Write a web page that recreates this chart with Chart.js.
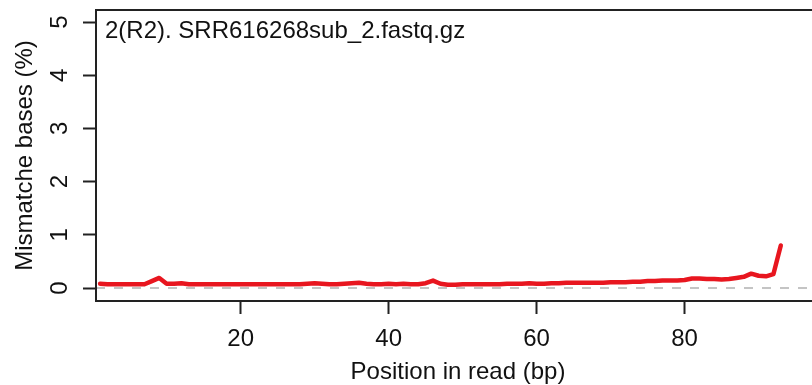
<!DOCTYPE html>
<html>
<head>
<meta charset="utf-8">
<script src="https://cdn.jsdelivr.net/npm/chart.js@4"></script>
<style>
  html, body { margin: 0; padding: 0; background: #fff; overflow: hidden; }
  #wrap { width: 812px; height: 385px; overflow: hidden; }
</style>
</head>
<body>
<div id="wrap"><canvas id="myChart" width="840" height="385"></canvas></div>
<script>
// mismatch rate (%) per read position, 1..93
const positions = [];
for (let i = 1; i <= 93; i++) positions.push(i);
const mismatch = [
	0.08, 0.07, 0.07, 0.07, 0.07, 0.07, 0.07, 0.13, 0.19, 0.08,
	0.08, 0.09, 0.07, 0.07, 0.07, 0.07, 0.07, 0.07, 0.07, 0.07,
	0.07, 0.07, 0.07, 0.07, 0.07, 0.07, 0.07, 0.07, 0.08, 0.09,
	0.08, 0.07, 0.07, 0.08, 0.09, 0.10, 0.08, 0.07, 0.07, 0.08,
	0.07, 0.08, 0.07, 0.07, 0.09, 0.14, 0.08, 0.06, 0.06, 0.07,
	0.07, 0.07, 0.07, 0.07, 0.07, 0.08, 0.08, 0.08, 0.09, 0.08,
	0.08, 0.09, 0.09, 0.10, 0.10, 0.10, 0.10, 0.10, 0.10, 0.11,
	0.11, 0.11, 0.12, 0.12, 0.13, 0.13, 0.14, 0.14, 0.14, 0.15,
	0.18, 0.18, 0.17, 0.17, 0.16, 0.17, 0.19, 0.21, 0.27, 0.23,
	0.22, 0.26, 0.80
];
const xTicks = [20, 40, 60, 80];
const yTicks = [0, 1, 2, 3, 4, 5];
const plotTitle = "2(R2). SRR616268sub_2.fastq.gz";

const X_MIN = 0.45, X_MAX = 98.3;
const Y_MIN = -0.244, Y_MAX = 5.226;

const FONT = "'Liberation Sans', Arial, sans-serif";
const ink = "#111";

const ctx = document.getElementById('myChart');

// frame around the plot region + the file name in the top-left corner
const frame = {
	id: 'frame',
	afterDraw(chart) {
		const { ctx, chartArea: a } = chart;
		ctx.save();
		ctx.strokeStyle = "#222";
		ctx.lineWidth = 2;
		ctx.strokeRect(a.left, a.top, a.right - a.left, a.bottom - a.top);
		ctx.fillStyle = ink;
		ctx.font = "24px " + FONT;
		ctx.textBaseline = "alphabetic";
		ctx.textAlign = "left";
		ctx.fillText(plotTitle, a.left + 9, a.top + 28);
		ctx.restore();
	}
};

new Chart(ctx, {
	type: 'line',
	data: {
		datasets: [
			{
				data: positions.map((p, i) => ({ x: p, y: mismatch[i] })),
				borderColor: "#e8161f",
				borderWidth: 4.5,
				pointRadius: 0,
				tension: 0,
				borderJoinStyle: 'round',
				borderCapStyle: 'round'
			},
			{
				data: [{ x: X_MIN, y: 0 }, { x: X_MAX, y: 0 }],
				borderColor: "#c4c4c4",
				borderWidth: 2,
				borderDash: [9, 9],
				pointRadius: 0
			}
		]
	},
	options: {
		responsive: false,
		animation: false,
		devicePixelRatio: 1,
		layout: { padding: { left: 0, top: 10, right: 20, bottom: 0 } },
		plugins: {
			legend: { display: false },
			tooltip: { enabled: false }
		},
		scales: {
			x: {
				type: 'linear',
				min: X_MIN,
				max: X_MAX,
				afterBuildTicks: (s) => { s.ticks = xTicks.map(v => ({ value: v })); },
				afterFit: (s) => { s.height = 84; s.paddingLeft = 0; s.paddingRight = 0; },
				border: { display: false },
				grid: {
					drawOnChartArea: false,
					drawTicks: true,
					tickLength: 13,
					tickColor: "#222",
					tickWidth: 2
				},
				ticks: {
					color: ink,
					font: { family: FONT, size: 24 },
					padding: 11,
					maxRotation: 0,
					autoSkip: false
				},
				title: {
					display: true,
					text: "Position in read (bp)",
					color: ink,
					font: { family: FONT, size: 24, lineHeight: 1 },
					padding: { top: 0, bottom: 1 }
				}
			},
			y: {
				type: 'linear',
				min: Y_MIN,
				max: Y_MAX,
				afterBuildTicks: (s) => { s.ticks = yTicks.map(v => ({ value: v })); },
				afterFit: (s) => { s.width = 96; s.paddingTop = 0; s.paddingBottom = 0; },
				border: { display: false },
				grid: {
					drawOnChartArea: false,
					drawTicks: true,
					tickLength: 13,
					tickColor: "#222",
					tickWidth: 2
				},
				ticks: {
					color: ink,
					font: { family: FONT, size: 24 },
					minRotation: 90,
					maxRotation: 90,
					crossAlign: 'center',
					padding: 15.5,
					autoSkip: false
				},
				title: {
					display: true,
					text: "Mismatche bases (%)",
					color: ink,
					font: { family: FONT, size: 24, lineHeight: 1.2 },
					padding: { top: 10.6, bottom: 0 }
				}
			}
		}
	},
	plugins: [frame]
});
</script>
</body>
</html>
